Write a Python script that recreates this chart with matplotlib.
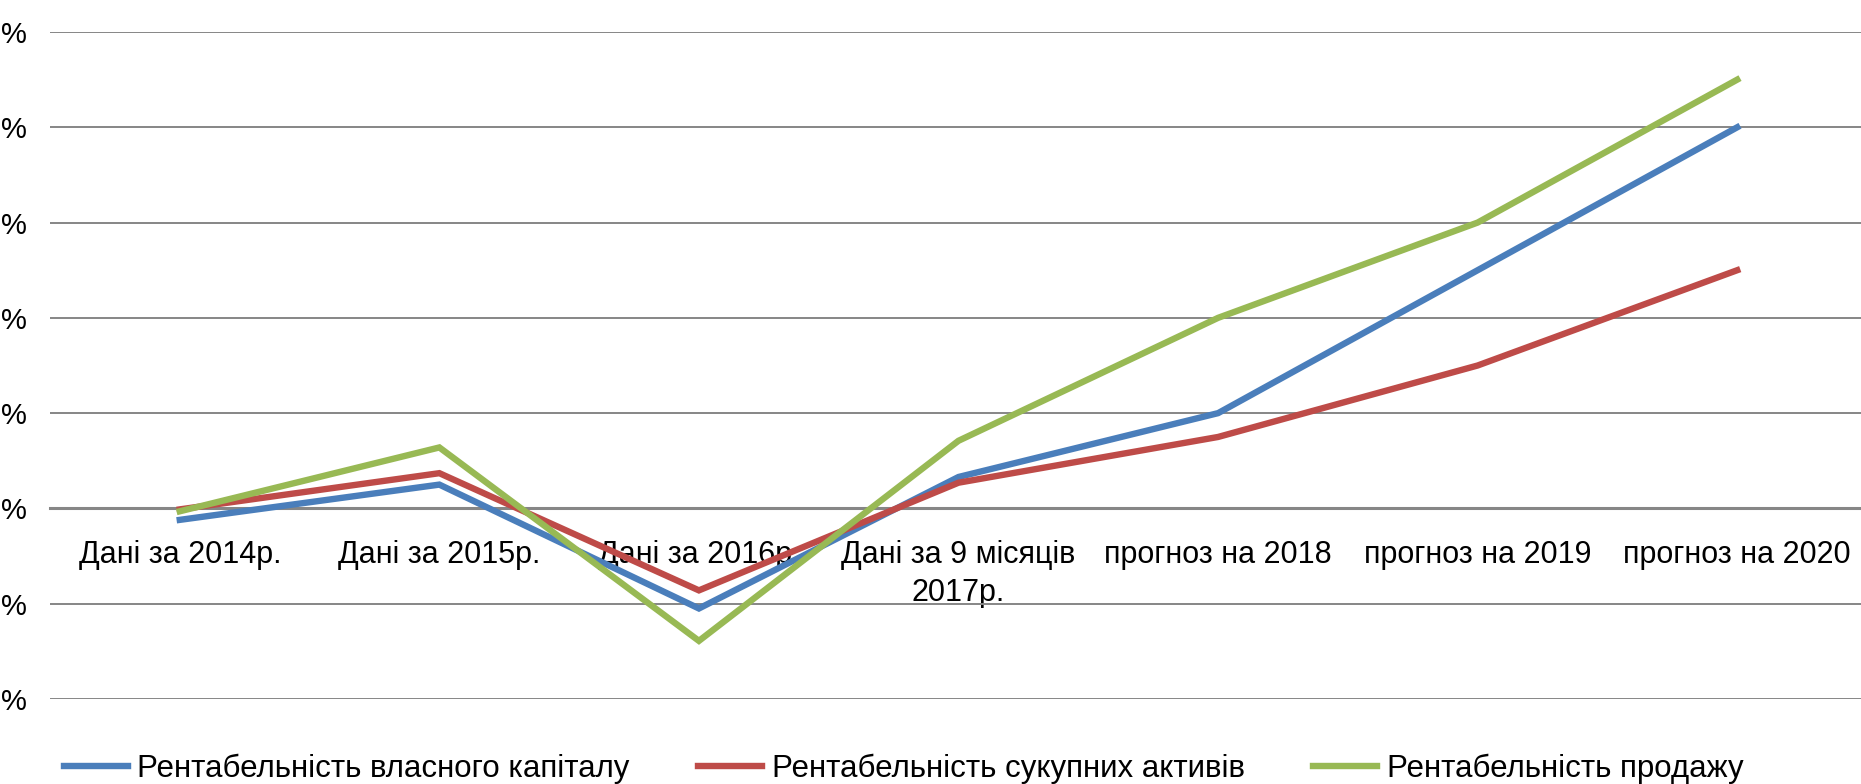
import matplotlib.pyplot as plt

plt.rcParams["font.family"] = ["Liberation Sans", "DejaVu Sans"]

categories = [
    "Дані за 2014р.",
    "Дані за 2015р.",
    "Дані за 2016р.",
    "Дані за 9 місяців\n2017р.",
    "прогноз на 2018",
    "прогноз на 2019",
    "прогноз на 2020",
]

# values in %
roe = [-1.2, 2.5, -10.5, 3.3, 10, 25, 40]
roa = [-0.1, 3.7, -8.6, 2.7, 7.5, 15, 25]
ros = [-0.3, 6.4, -13.9, 7.1, 20, 30, 45]

y_ticks = [-20, -10, 0, 10, 20, 30, 40, 50]
# the digits of the axis labels are cut off in the source, only "%" is visible
y_labels = ["%"] * len(y_ticks)

series_names = [
    "Рентабельність власного капіталу",
    "Рентабельність сукупних активів",
    "Рентабельність продажу",
]
colors = ["#4A7EBB", "#BE4B48", "#98B954"]

fig = plt.figure(figsize=(18.61, 7.84), dpi=100)
ax = fig.add_axes([50 / 1861, 85 / 784, 1817 / 1861, 667 / 784])

x = list(range(len(categories)))
for vals, name, c in zip([roe, roa, ros], series_names, colors):
    ax.plot(x, vals, color=c, lw=4.6, label=name, solid_joinstyle="miter", zorder=3)

ax.set_xlim(-0.5, len(categories) - 0.5)
ax.set_ylim(y_ticks[0], y_ticks[-1])
ax.set_yticks(y_ticks)
ax.set_yticklabels(y_labels, fontsize=21)
ax.tick_params(axis="y", length=0, pad=17)
ax.yaxis.grid(True, color="#868686", lw=1.4)
ax.set_axisbelow(True)

for s in ["left", "right", "top"]:
    ax.spines[s].set_visible(False)
ax.spines["bottom"].set_position(("data", 0))
ax.spines["bottom"].set_color("#868686")
ax.spines["bottom"].set_linewidth(2.2)

ax.set_xticks(x)
ax.set_xticklabels(categories, fontsize=22, linespacing=1.35)
ax.tick_params(axis="x", length=0, pad=23)

fig.legend(
    loc="center",
    bbox_to_anchor=(0.4855, 1 - 769 / 784),
    ncol=3,
    frameon=False,
    fontsize=22.5,
    handlelength=2.05,
    handletextpad=0.3,
    columnspacing=2.2,
)

fig.savefig("out.png", dpi=100)
